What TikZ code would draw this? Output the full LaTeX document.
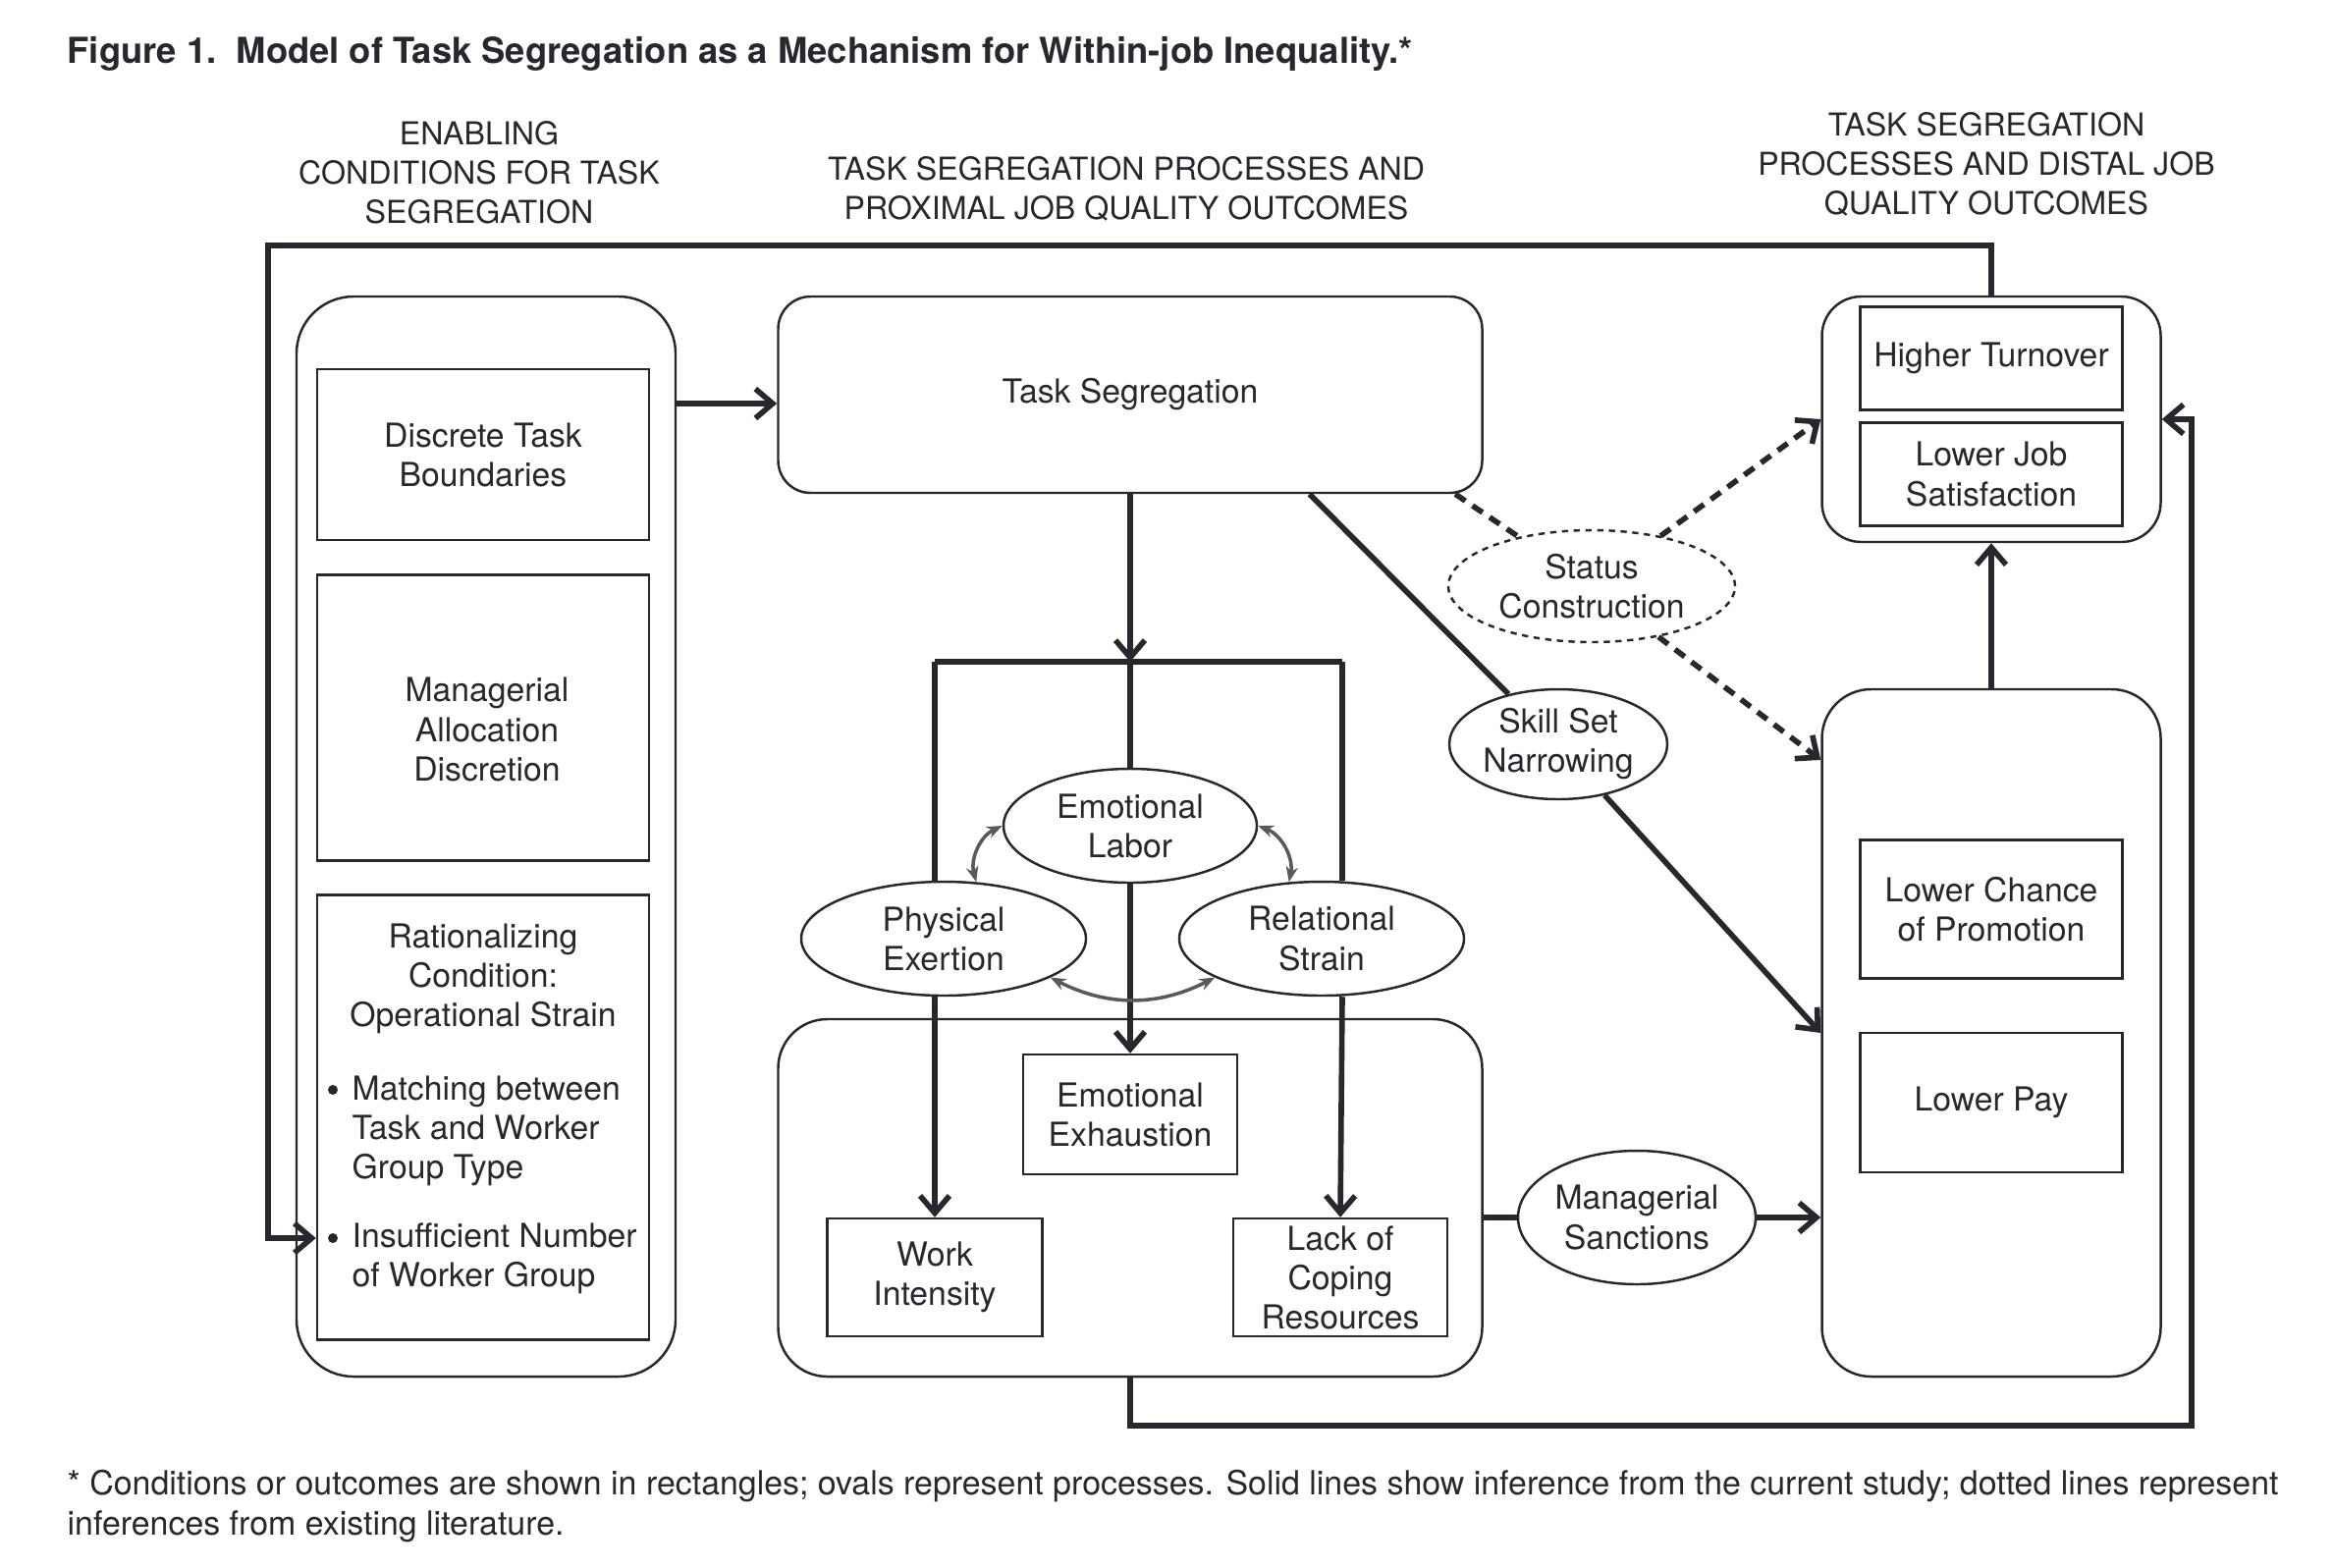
\documentclass[tikz,border=0pt]{standalone}
\usepackage{fontspec}
\setmainfont{TeX Gyre Heros}
\usetikzlibrary{arrows.meta,shapes.geometric}
\definecolor{ink}{RGB}{38,40,46}
\definecolor{linkgray}{RGB}{88,89,95}
\begin{document}
\begin{tikzpicture}[x=1cm,y=-1cm,
  every node/.style={font=\fontsize{9.6}{11.4}\selectfont,text=ink},
  head/.style={align=center,font=\fontsize{9.15}{11.4}\selectfont},
  frame/.style={draw=ink,line width=.7pt,inner sep=0},
  cond/.style={draw=ink,line width=.7pt,align=center,inner sep=0},
  proc/.style={draw=ink,line width=.7pt,ellipse,align=center,inner sep=0},
  dot/.style={circle,fill=ink,inner sep=0,minimum size=.1cm},
  link/.style={draw=ink,line width=1.6pt},
  arr/.style={link,-{Straight Barb[length=5pt,width=8.5pt]}},
  litline/.style={link,dash pattern=on 3.5pt off 2.5pt},
  lit/.style={arr,dash pattern=on 3.5pt off 2.5pt},
  mutual/.style={draw=linkgray,line width=1pt,
    {Stealth[length=4.5pt,width=3.5pt]}-{Stealth[length=4.5pt,width=3.5pt]}}]
\useasboundingbox (0,0) rectangle (23.76,15.96);
\node[anchor=west,inner sep=0,font=\fontsize{10.35}{12}\selectfont\bfseries] (title) at (0.68,0.545)
 {Figure 1.\ \ Model of Task Segregation as a Mechanism for Within-job Inequality.*};
\node[head] (hdEnab) at (4.88,1.76) {ENABLING\\CONDITIONS FOR TASK\\SEGREGATION};
\node[head] (hdProx) at (11.47,1.925) {TASK SEGREGATION PROCESSES AND\\PROXIMAL JOB QUALITY OUTCOMES};
\node[head] (hdDist) at (20.23,1.67) {TASK SEGREGATION\\PROCESSES AND DISTAL JOB\\QUALITY OUTCOMES};
\node[frame,rounded corners=.58cm,minimum width=3.86cm,minimum height=11cm] (enab) at (4.95,8.52) {};
\node[frame,rounded corners=.33cm,minimum width=7.17cm,minimum height=2cm] (task) at (11.51,4.02) {Task Segregation};
\node[frame,rounded corners=.5cm,minimum width=7.17cm,minimum height=3.64cm] (proxout) at (11.51,12.20) {};
\node[frame,rounded corners=.4cm,minimum width=3.45cm,minimum height=2.5cm] (distal1) at (20.28,4.27) {};
\node[frame,rounded corners=.5cm,minimum width=3.45cm,minimum height=7cm] (distal2) at (20.28,10.52) {};
\foreach \name/\x/\y/\w/\h/\txt in {disc/4.92/4.63/3.38/1.74/{Discrete Task\\Boundaries},
  mgr/4.92/7.31/3.38/2.91/{},rat/4.92/11.38/3.38/4.53/{},
  exh/11.51/11.35/2.18/1.22/{Emotional\\Exhaustion},work/9.52/13.01/2.19/1.20/{Work\\Intensity},
  coping/13.65/13.01/2.18/1.20/{Lack of\\Coping\\Resources},turn/20.28/3.65/2.67/1.05/{Higher Turnover},
  sat/20.28/4.83/2.67/1.05/{Lower Job\\Satisfaction},promo/20.28/9.26/2.67/1.41/{Lower Chance\\of Promotion},
  pay/20.28/11.23/2.67/1.42/{Lower Pay}}
 \node[cond,minimum width=\w cm,minimum height=\h cm] (\name) at (\x,\y) {\txt};
\node[align=center] (mgrText) at (4.96,7.43) {Managerial\\Allocation\\Discretion};
\node[align=center] (ratHead) at (4.92,9.97) {Rationalizing\\Condition:\\Operational Strain};
\node[dot] (bulA) at (3.39,11.10) {};
\node[anchor=west,align=left,inner sep=0] (ratA) at (3.58,11.52) {Matching between\\Task and Worker\\Group Type};
\node[dot] (bulB) at (3.39,12.61) {};
\node[anchor=west,align=left,inner sep=0] (ratB) at (3.58,12.82) {Insufficient Number\\of Worker Group};
\foreach \name/\x/\y/\w/\h/\txt in {emo/11.51/8.41/2.58/1.16/{Emotional\\Labor},
  phys/9.61/9.56/2.90/1.16/{Physical\\Exertion},rel/13.46/9.56/2.90/1.16/{Relational\\Strain},
  skill/15.87/7.58/2.22/1.12/{Skill Set\\Narrowing},sanc/16.67/12.40/2.42/1.36/{Managerial\\Sanctions}}
 \node[proc,minimum width=\w cm,minimum height=\h cm] (\name) at (\x,\y) {\txt};
\node[proc,dash pattern=on 1.8pt off 1.6pt,minimum width=2.92cm,minimum height=1.14cm] (status) at (16.21,5.97) {Status\\Construction};
\coordinate (barL) at (9.52,6.74);
\coordinate (barM) at (11.51,6.74);
\coordinate (barR) at (13.67,6.74);
\coordinate (loopTop) at (2.73,2.50);
\coordinate (loopBot) at (22.32,14.52);
\draw[arr] (enab.east |- 0,4.11) -- (task.west |- 0,4.11);
\draw[arr] (task.south) -- (barM);
\draw[link] (barL) -- (barR);
\draw[link] (barM) -- (emo.north);
\draw[link] (barL) -- (barL |- phys.north);
\draw[link] (barR) -- (barR |- rel.north);
\draw[arr] (emo.south) -- (exh.north);
\draw[arr] (barL |- phys.south) -- (work.north);
\draw[arr] (barR |- rel.south) -- (coping.north);
\draw[mutual] (emo.west) to[bend right=40] (phys.60);
\draw[mutual] (emo.east) to[bend left=40] (rel.120);
\draw[mutual] (phys.-20) to[bend right=27] (rel.-160);
\draw[link] (task.-29) -- (skill);
\draw[arr] (skill) -- (distal2.west);
\draw[litline] (task.-17) -- (status);
\draw[lit] (status) -- (distal1.west);
\draw[lit] (status) -- (distal2.122);
\draw[link] (proxout.east |- sanc) -- (sanc);
\draw[arr] (sanc) -- (distal2.west |- sanc);
\draw[arr] (distal2.north) -- (distal1.south);
\draw[arr] (distal1.north) |- (loopTop) |- (rat.west |- bulB);
\draw[arr] (proxout.south) |- (loopBot) |- (distal1.east);
\node[anchor=west,align=left,inner sep=0,font=\fontsize{9.65}{11.4}\selectfont] (note) at (0.68,15.34)
 {* Conditions or outcomes are shown in rectangles; ovals represent processes. Solid lines show inference from the current study; dotted lines represent\\inferences from existing literature.};
\end{tikzpicture}
\end{document}
